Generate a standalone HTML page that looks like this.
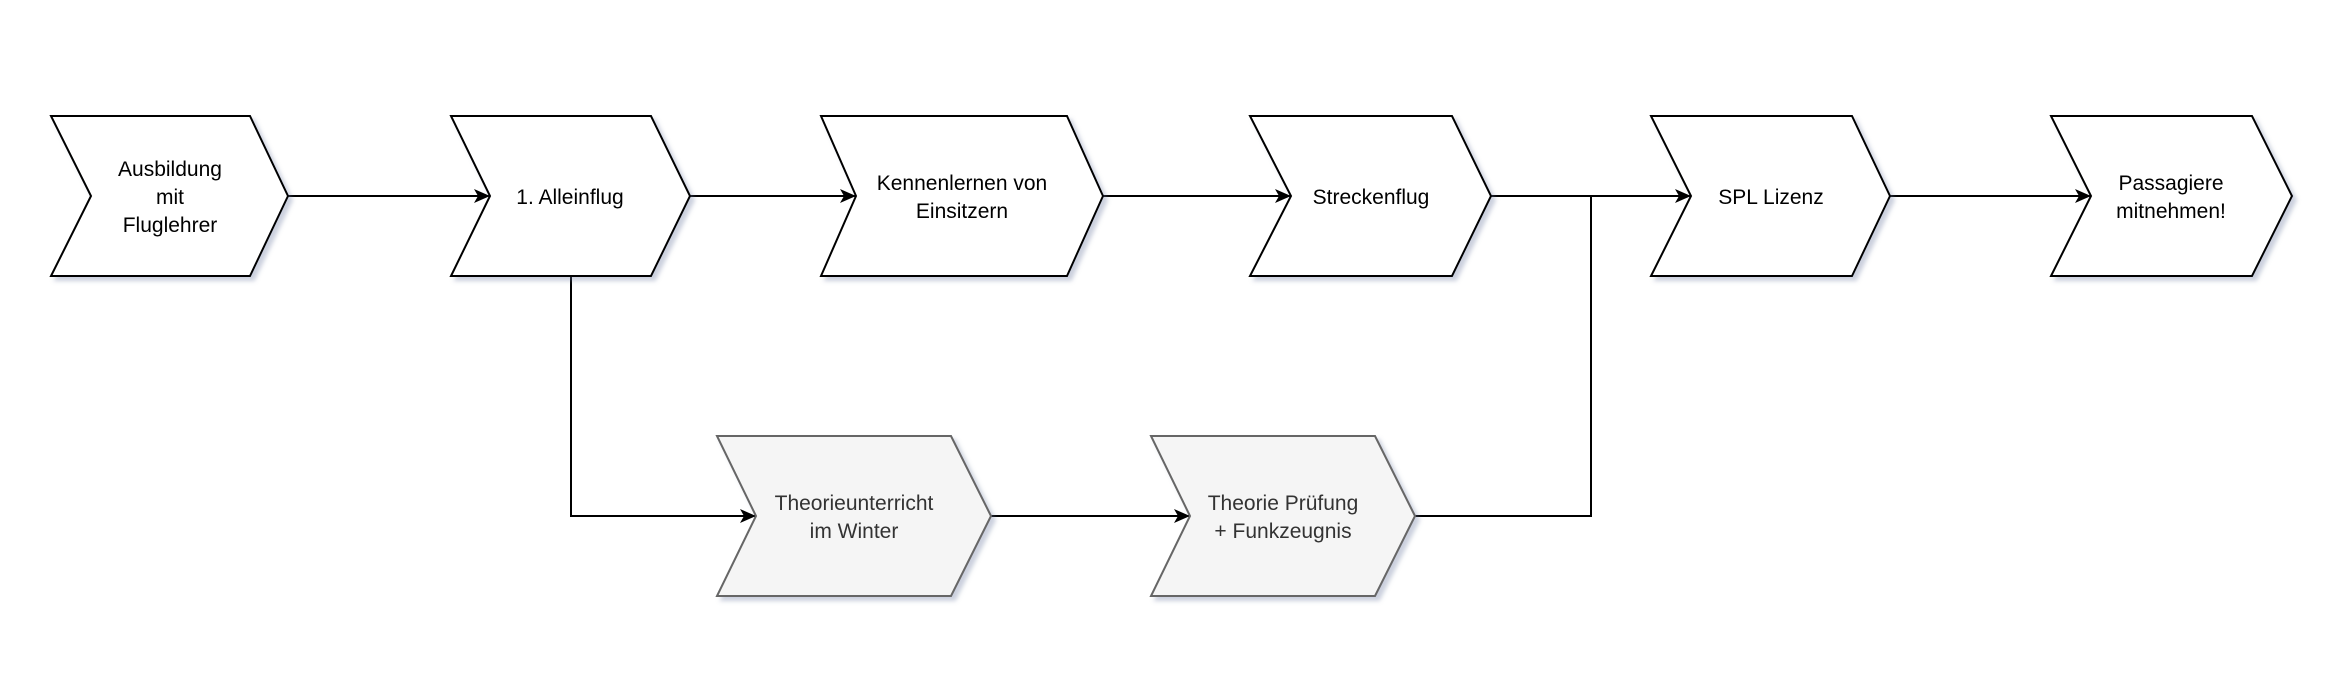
<!DOCTYPE html>
<html><head><meta charset="utf-8"><style>
html,body{margin:0;padding:0;background:#fff;}
svg{display:block}
text{font-family:"Liberation Sans",Helvetica,Arial,sans-serif;font-size:21px;text-anchor:middle}
</style></head><body>
<svg width="2345" height="677" viewBox="0 0 2345 677" xmlns="http://www.w3.org/2000/svg">
<defs>
<filter id="sh" x="-10%" y="-10%" width="130%" height="130%">
<feGaussianBlur in="SourceAlpha" stdDeviation="2"/>
<feOffset dx="4" dy="4" result="b"/>
<feFlood flood-color="#6c7aa0" flood-opacity="0.35"/>
<feComposite in2="b" operator="in"/>
<feMerge><feMergeNode/><feMergeNode in="SourceGraphic"/></feMerge>
</filter>
<marker id="ar" markerWidth="16" markerHeight="16" refX="15" refY="8" orient="auto" markerUnits="userSpaceOnUse">
<path d="M0,1 L16,8 L0,15 L4,8 Z" fill="#000"/>
</marker>
</defs>
<g stroke-width="2" fill="none" stroke="#000">
<path d="M288,196 H489" marker-end="url(#ar)"/>
<path d="M690,196 H855" marker-end="url(#ar)"/>
<path d="M1103,196 H1290" marker-end="url(#ar)"/>
<path d="M1491,196 H1690" marker-end="url(#ar)"/>
<path d="M1890,196 H2090" marker-end="url(#ar)"/>
<path d="M571,276 V516 H755" marker-end="url(#ar)"/>
<path d="M991,516 H1189" marker-end="url(#ar)"/>
<path d="M1415,516 H1591 V196"/>
</g>
<g filter="url(#sh)" stroke-width="2">
<path d="M51,116 H250 L288,196 L250,276 H51 L91,196 Z" fill="#fff" stroke="#000"/>
<path d="M451,116 H651 L690,196 L651,276 H451 L490,196 Z" fill="#fff" stroke="#000"/>
<path d="M821,116 H1067 L1103,196 L1067,276 H821 L856,196 Z" fill="#fff" stroke="#000"/>
<path d="M1250,116 H1452 L1491,196 L1452,276 H1250 L1291,196 Z" fill="#fff" stroke="#000"/>
<path d="M1651,116 H1852 L1890,196 L1852,276 H1651 L1691,196 Z" fill="#fff" stroke="#000"/>
<path d="M2051,116 H2252 L2292,196 L2252,276 H2051 L2091,196 Z" fill="#fff" stroke="#000"/>
<path d="M717,436 H951 L991,516 L951,596 H717 L756,516 Z" fill="#f5f5f5" stroke="#666"/>
<path d="M1151,436 H1375 L1415,516 L1375,596 H1151 L1190,516 Z" fill="#f5f5f5" stroke="#666"/>
</g>
<g fill="#000">
<text x="170" y="176">Ausbildung</text>
<text x="170" y="204">mit</text>
<text x="170" y="232">Fluglehrer</text>
<text x="570" y="204">1. Alleinflug</text>
<text x="962" y="190">Kennenlernen von</text>
<text x="962" y="218">Einsitzern</text>
<text x="1371" y="204">Streckenflug</text>
<text x="1771" y="204">SPL Lizenz</text>
<text x="2171" y="190">Passagiere</text>
<text x="2171" y="218">mitnehmen!</text>
</g>
<g fill="#333">
<text x="854" y="510">Theorieunterricht</text>
<text x="854" y="538">im Winter</text>
<text x="1283" y="510">Theorie Prüfung</text>
<text x="1283" y="538">+ Funkzeugnis</text>
</g>
</svg>
</body></html>
